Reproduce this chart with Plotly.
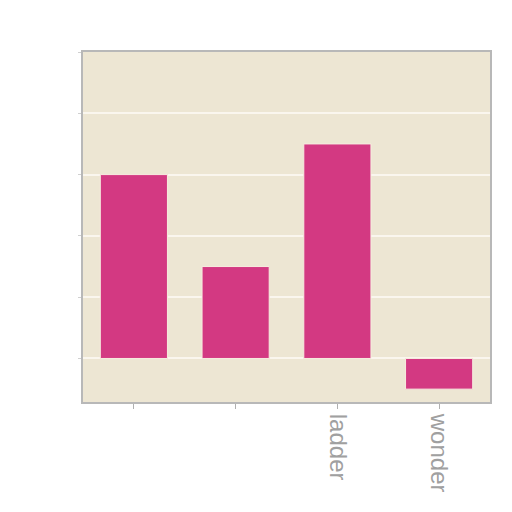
import plotly.graph_objects as go

categories = ["cat1", "cat2", "ladder", "wonder"]
tick_labels = ["", "", "ladder", "wonder"]
values = [3.0, 1.5, 3.5, -0.5]

fig = go.Figure(go.Bar(
    x=categories, y=values,
    marker=dict(color="#d33982", line=dict(color="#f7ecdf", width=1)),
))
fig.update_layout(
    width=512, height=512,
    margin=dict(l=75, r=30, t=44, b=118),
    paper_bgcolor="white", plot_bgcolor="#ede6d3",
    bargap=0.34, showlegend=False,
    font=dict(family="Liberation Sans, Arial", color="#999999"),
)
fig.update_xaxes(
    tickvals=categories, ticktext=tick_labels, tickangle=90,
    tickfont=dict(size=24, color="#a0a0a0"),
    showline=True, linecolor="#b8b8b8", linewidth=2, mirror=True,
    ticks="outside", ticklen=5, tickcolor="#b0b0b0", showgrid=False,
)
fig.update_yaxes(
    range=[-0.71, 5], dtick=1, showticklabels=False,
    showgrid=True, gridcolor="#faf6ee", gridwidth=1.5,
    zeroline=True, zerolinecolor="#faf6ee", zerolinewidth=1.5,
    showline=True, linecolor="#b8b8b8", linewidth=2, mirror=True,
    ticks="outside", ticklen=3, tickcolor="#d0d0d0",
)
fig.write_html("out.html")
